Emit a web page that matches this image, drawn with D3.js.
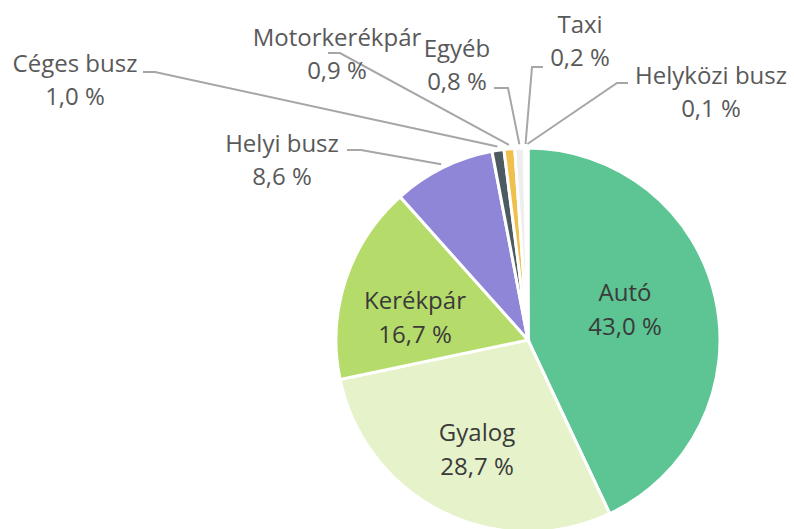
<!DOCTYPE html>
<html>
<head>
<meta charset="utf-8">
<script src="https://cdn.jsdelivr.net/npm/d3@7"></script>
<style>
  body { margin: 0; background: #fff; }
  text { font-family: "Open Sans", sans-serif; }
</style>
</head>
<body>
<div id="chart"></div>
<script>
// Data, clockwise from 12 o'clock
var categories = ["Autó", "Gyalog", "Kerékpár", "Helyi busz", "Céges busz", "Motorkerékpár", "Egyéb", "Taxi", "Helyközi busz"];
var values = [43.0, 28.7, 16.7, 8.6, 1.0, 0.9, 0.8, 0.2, 0.1];
var colors = ["#5cc593", "#e6f2c9", "#b5dc6a", "#8f86d8", "#4d5a61", "#f0c04c", "#eeeeee", "#e8e8e8", "#e8e8e8"];

(function() {
  var width = 794, height = 529;
  var cx = 528, cy = 340, radius = 192;

  var svg = d3.select("#chart")
    .append("svg")
    .attr("width", width)
    .attr("height", height)

  var data = categories.map(function(c, i) {
    return { name: c, value: values[i], color: colors[i] }
  })

  var pie = d3.pie()
    .sort(null)
    .value(function(d) { return d.value })

  var arcs = pie(data)

  var arc = d3.arc()
    .innerRadius(0)
    .outerRadius(radius)

  var g = svg.append("g")
    .attr("transform", "translate(" + cx + "," + cy + ")")

  g.selectAll(".slice")
    .data(arcs)
    .enter().append("path")
    .attr("class", "slice")
    .attr("d", arc)
    .attr("fill", function(d) { return d.data.color })
    .attr("stroke", "#fff")
    .attr("stroke-width", 3)

  var fmt = function(v) { return d3.format(".1f")(v).replace(".", ",") + " %" }

  // Labels inside the big slices: centre of the two-line block
  var inside = {
    "Autó":     { x: 625, y: 318 },
    "Gyalog":   { x: 477, y: 458 },
    "Kerékpár": { x: 415, y: 326 }
  }

  arcs.filter(function(d) { return inside[d.data.name] }).forEach(function(d) {
    var o = inside[d.data.name]
    var t = svg.append("text")
      .attr("text-anchor", "middle")
      .attr("font-size", 24)
      .attr("fill", "#3a3a3a")
    t.append("tspan").attr("x", o.x).attr("y", o.y - 17).text(d.data.name)
    t.append("tspan").attr("x", o.x).attr("y", o.y + 17).text(fmt(d.data.value))
  })

  // Outside labels: text centre + first baseline, and where the leader line leaves the text
  var outside = {
    "Helyi busz":    { x: 282, y: 152, lx: 347, ly: 150, bend: 14 },
    "Céges busz":    { x: 75,  y: 72,  lx: 143, ly: 72,  bend: 12 },
    "Motorkerékpár": { x: 337, y: 46,  lx: 328, ly: 53,  bend: 12 },
    "Egyéb":         { x: 457, y: 57,  lx: 494, ly: 88,  bend: 14 },
    "Taxi":          { x: 580, y: 33,  lx: 543, ly: 67,  bend: -11 },
    "Helyközi busz": { x: 711, y: 84,  lx: 628, ly: 83,  bend: -11 }
  }

  var edge = d3.arc().innerRadius(radius + 4).outerRadius(radius + 4)

  arcs.filter(function(d) { return outside[d.data.name] }).forEach(function(d) {
    var o = outside[d.data.name]
    var p = edge.centroid(d)
    var line = d3.line()
    svg.append("path")
      .attr("d", line([[o.lx, o.ly], [o.lx + o.bend, o.ly], [cx + p[0], cy + p[1]]]))
      .attr("fill", "none")
      .attr("stroke", "#a6a6a6")
      .attr("stroke-width", 2)

    var t = svg.append("text")
      .attr("text-anchor", "middle")
      .attr("font-size", 24)
      .attr("fill", "#595959")
    t.append("tspan").attr("x", o.x).attr("y", o.y).text(d.data.name)
    t.append("tspan").attr("x", o.x).attr("y", o.y + 33).text(fmt(d.data.value))
  })

})();
</script>
</body>
</html>
